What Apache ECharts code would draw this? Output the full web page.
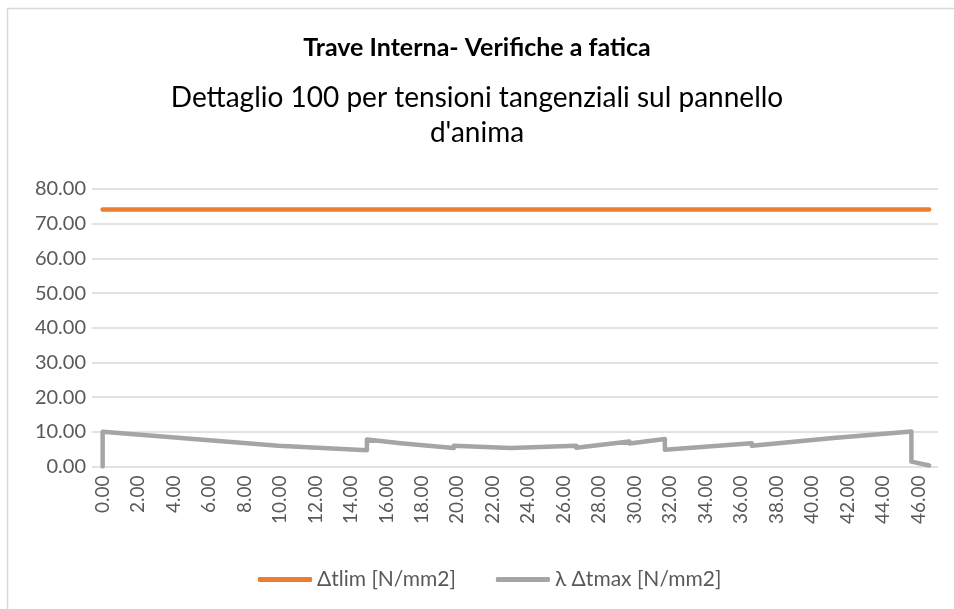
<!DOCTYPE html>
<html>
<head>
<meta charset="utf-8">
<script src="https://cdn.jsdelivr.net/npm/echarts@6/dist/echarts.min.js"></script>
<style>
  html, body { margin: 0; padding: 0; background: #ffffff; }
  #chart { width: 954px; height: 609px; }
</style>
</head>
<body>
<div id="chart"></div>
<script>
// Positions along the beam [m] and fatigue stress values [N/mm2]
const limX = [0, 46.6];
const limY = [74.07, 74.07];

const maxX = [0, 0, 9.9, 9.9, 14.9, 14.9, 16.8, 16.8, 19.8, 19.8, 23.0, 26.7, 26.7, 29.7, 29.7, 31.7, 31.7, 36.6, 36.6, 41.2, 45.6, 45.6, 46.6];
const maxY = [0, 10.0, 6.0, 6.5, 4.7, 7.8, 6.7, 7.1, 5.3, 6.0, 5.3, 6.0, 5.4, 7.2, 6.6, 7.9, 4.8, 6.7, 6.0, 8.2, 10.1, 1.4, 0.3];

const xTicks = [0, 2, 4, 6, 8, 10, 12, 14, 16, 18, 20, 22, 24, 26, 28, 30, 32, 34, 36, 38, 40, 42, 44, 46];
const yTicks = [0, 10, 20, 30, 40, 50, 60, 70, 80];

const titleText = 'Trave Interna- Verifiche a fatica';
const subtitleLines = ['Dettaglio 100 per tensioni tangenziali sul pannello', 'd\'anima'];
const seriesNames = ['\u0394tlim [N/mm2]', '\u03bb \u0394tmax [N/mm2]'];
const colors = ['#ED7D31', '#A5A5A5'];

const pairs = (xs, ys) => xs.map((x, i) => [x, ys[i]]);

const FONT = 'Lato';
const subStyle = { fontFamily: FONT, fontWeight: 'normal', fontSize: 28, color: '#000000', lineHeight: 34 };

const chart = echarts.init(document.getElementById('chart'), null, { renderer: 'canvas' });

chart.setOption({
  backgroundColor: '#ffffff',
  animation: false,
  title: [
    {
      text: titleText,
      left: 'center',
      top: 31,
      padding: 0,
      textStyle: { fontFamily: FONT, fontWeight: 'bold', fontSize: 25, color: '#000000', lineHeight: 34 }
    },
    { text: subtitleLines[0], left: 'center', top: 81, padding: 0, textStyle: subStyle },
    { text: subtitleLines[1], left: 'center', top: 116, padding: 0, textStyle: subStyle }
  ],
  graphic: [
    {
      type: 'rect',
      shape: { x: 7.5, y: 8.5, width: 1000, height: 700 },
      style: { fill: 'none', stroke: '#D9D9D9', lineWidth: 1.5 },
      silent: true
    }
  ],
  legend: {
    left: 253,
    top: 564,
    itemWidth: 54,
    itemHeight: 5,
    itemGap: 40,
    icon: 'roundRect',
    textStyle: { fontFamily: FONT, fontSize: 21, color: '#595959' },
    data: seriesNames
  },
  grid: { left: 92, right: 16, top: 189, bottom: 142.5, containLabel: false },
  xAxis: {
    type: 'value',
    min: -0.6,
    max: 47.1,
    axisLine: { show: false },
    axisTick: { show: false },
    splitLine: { show: false },
    axisLabel: {
      customValues: xTicks,
      rotate: 90,
      margin: 9,
      fontFamily: FONT,
      fontSize: 19,
      color: '#595959',
      formatter: v => v.toFixed(2)
    }
  },
  yAxis: {
    type: 'value',
    min: yTicks[0],
    max: yTicks[yTicks.length - 1],
    interval: 10,
    axisLine: { show: false },
    axisTick: { show: false },
    splitLine: { lineStyle: { color: '#D9D9D9', width: 1.5 } },
    axisLabel: {
      margin: 6,
      fontFamily: FONT,
      fontSize: 20,
      color: '#595959',
      formatter: v => v.toFixed(2)
    }
  },
  series: [
    {
      name: seriesNames[0],
      type: 'line',
      data: pairs(limX, limY),
      showSymbol: false,
      symbol: 'none',
      color: colors[0],
      lineStyle: { color: colors[0], width: 4.5, cap: 'round', join: 'round' }
    },
    {
      name: seriesNames[1],
      type: 'line',
      data: pairs(maxX, maxY),
      showSymbol: false,
      symbol: 'none',
      color: colors[1],
      lineStyle: { color: colors[1], width: 4.5, cap: 'round', join: 'round' }
    }
  ]
});
</script>
</body>
</html>
